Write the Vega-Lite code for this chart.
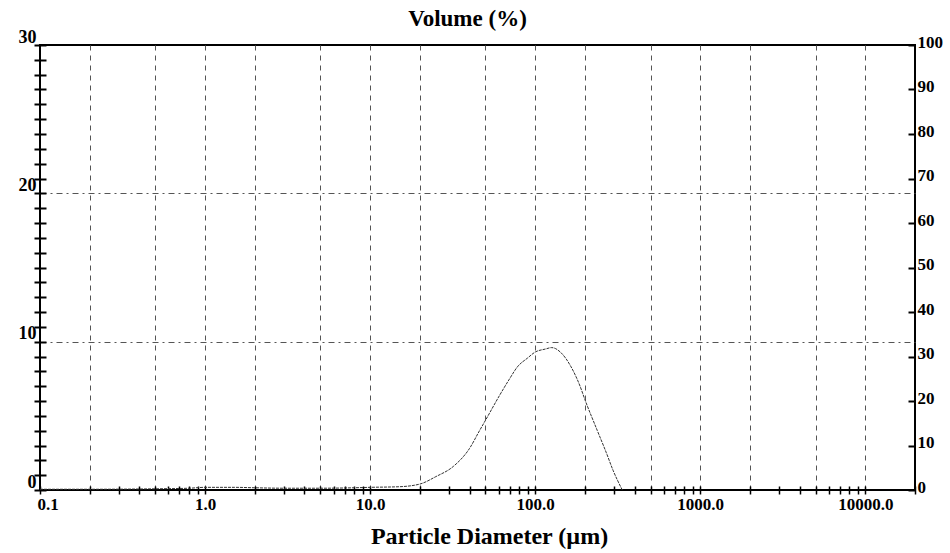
{
  "$schema": "https://vega.github.io/schema/vega-lite/v6.json",
  "autosize": {"type": "none"},
  "width": 875,
  "height": 445,
  "padding": {"left": 40, "top": 45, "right": 35, "bottom": 63},
  "background": "white",
  "title": {"text": "Volume (%)", "font": "Liberation Serif", "fontWeight": "bold", "fontSize": 23, "color": "black", "anchor": "middle", "frame": "group", "dx": -10, "dy": 3, "offset": 0},
  "config": {
    "view": {"stroke": "black", "strokeWidth": 2},
    "axis": {"labelFont": "Liberation Serif", "labelFontWeight": "bold", "labelColor": "black", "titleFont": "Liberation Serif", "titleFontWeight": "bold", "titleColor": "black", "domainColor": "black", "tickColor": "black"}
  },
  "data": {"values": [
    {"d": 0.1, "v": 0.05}, {"d": 0.2, "v": 0.05}, {"d": 0.5, "v": 0.08}, {"d": 0.8, "v": 0.12},
    {"d": 1.0, "v": 0.18}, {"d": 1.5, "v": 0.18}, {"d": 2.0, "v": 0.15}, {"d": 3.0, "v": 0.12},
    {"d": 5.0, "v": 0.12}, {"d": 8.0, "v": 0.15}, {"d": 10.0, "v": 0.18}, {"d": 15.0, "v": 0.22},
    {"d": 20.0, "v": 0.4}, {"d": 25.0, "v": 0.9}, {"d": 32.0, "v": 1.6}, {"d": 40.0, "v": 2.8},
    {"d": 46.0, "v": 4.0}, {"d": 50.0, "v": 4.7}, {"d": 61.0, "v": 6.4}, {"d": 70.0, "v": 7.5},
    {"d": 78.0, "v": 8.3}, {"d": 90.0, "v": 8.9}, {"d": 100.0, "v": 9.3}, {"d": 115.0, "v": 9.5},
    {"d": 126.0, "v": 9.6}, {"d": 142.0, "v": 9.3}, {"d": 165.0, "v": 8.3}, {"d": 187.0, "v": 7.0},
    {"d": 200.0, "v": 6.1}, {"d": 238.0, "v": 4.0}, {"d": 270.0, "v": 2.5}, {"d": 297.0, "v": 1.3},
    {"d": 337.0, "v": 0.0}
  ]},
  "resolve": {"scale": {"x": "independent", "y": "independent"}, "axis": {"x": "independent", "y": "independent"}},
  "layer": [
    {
      "mark": {"type": "point", "opacity": 0},
      "encoding": {
        "x": {"field": "d", "type": "quantitative", "scale": {"type": "log", "domain": [0.1, 20000]},
          "axis": {"values": [0.2, 0.5, 1, 2, 5, 10, 20, 50, 100, 200, 500, 1000, 2000, 5000, 10000], "grid": true, "gridColor": "#555", "gridDash": [5, 5], "gridWidth": 1, "ticks": false, "labels": false, "domain": false, "title": null, "orient": "bottom"}},
        "y": {"field": "v", "type": "quantitative", "scale": {"domain": [0, 30]},
          "axis": {"values": [10, 20], "grid": true, "gridColor": "#555", "gridDash": [6, 4, 2, 4], "gridWidth": 1, "ticks": false, "labels": false, "domain": false, "title": null, "orient": "left"}}
      }
    },
    {
      "mark": {"type": "point", "opacity": 0},
      "encoding": {
        "x": {"field": "d", "type": "quantitative", "scale": {"type": "log", "domain": [0.1, 20000]},
          "axis": {"values": [0.1,0.2,0.3,0.4,0.5,0.6,0.7,0.8,0.9,1,2,3,4,5,6,7,8,9,10,20,30,40,50,60,70,80,90,100,200,300,400,500,600,700,800,900,1000,2000,3000,4000,5000,6000,7000,8000,9000,10000,20000], "grid": false, "ticks": true, "tickSize": 8, "tickWidth": 1.5, "offset": -4, "labels": false, "domain": false, "title": null, "orient": "bottom"}},
        "y": {"field": "v", "type": "quantitative", "scale": {"domain": [0, 30]},
          "axis": {"values": [0,1,2,3,4,5,6,7,8,9,10,11,12,13,14,15,16,17,18,19,20,21,22,23,24,25,26,27,28,29,30], "grid": false, "ticks": true, "tickSize": 12, "offset": -6, "tickWidth": 2, "labels": false, "domain": false, "title": null, "orient": "left"}}
      }
    },
    {
      "mark": {"type": "point", "opacity": 0},
      "encoding": {
        "x": {"field": "d", "type": "quantitative", "scale": {"type": "log", "domain": [0.1, 20000]}, "axis": null},
        "y": {"field": "v", "type": "quantitative", "scale": {"domain": [0, 100]},
          "axis": {"values": [0,10,20,30,40,50,60,70,80,90,100], "orient": "right", "grid": false, "tickSize": -7, "tickWidth": 2, "labelPadding": 9, "labelFontSize": 17, "labelBaseline": "bottom", "labelOffset": 6, "domain": false, "title": null}}
      }
    },
    {
      "mark": {"type": "line", "color": "#333", "strokeWidth": 1, "strokeDash": [3, 1], "interpolate": "monotone"},
      "encoding": {
        "x": {"field": "d", "type": "quantitative", "scale": {"type": "log", "domain": [0.1, 20000]},
          "axis": {"values": [0.1, 1, 10, 100, 1000, 10000], "labelExpr": "datum.value < 1 ? '0.1' : format(datum.value, '.1f')", "labelFontSize": 17, "labelPadding": 6, "ticks": false, "domain": false, "grid": false, "orient": "bottom", "title": "Particle Diameter (µm)", "titleFontSize": 24, "titlePadding": 12, "titleX": 449, "titleAlign": "center", "labelFlush": true, "labelFlushOffset": 3}},
        "y": {"field": "v", "type": "quantitative", "scale": {"domain": [0, 30]},
          "axis": {"values": [0, 10, 20, 30], "orient": "left", "grid": false, "ticks": false, "domain": false, "labelFontSize": 18, "labelPadding": 4, "labelBaseline": "bottom", "labelOffset": 1, "title": null}}
      }
    }
  ]
}
